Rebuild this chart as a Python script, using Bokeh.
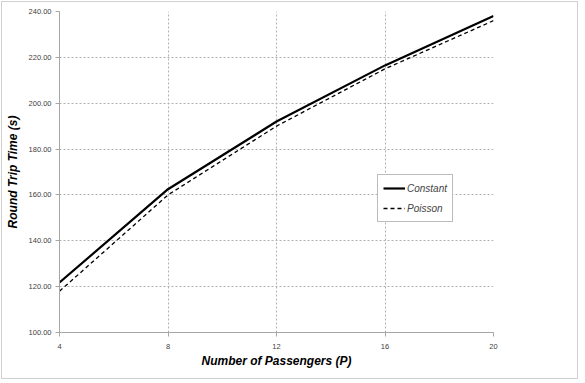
from bokeh.plotting import figure
from bokeh.models import FixedTicker, NumeralTickFormatter, Legend, LegendItem, Range1d
from bokeh.embed import file_html
from bokeh.resources import INLINE

passengers = [4, 8, 12, 16, 20]
constant = [121.8, 162.5, 192.0, 216.5, 238.0]
poisson = [118.0, 160.0, 190.0, 215.0, 236.0]
y_ticks = [100, 120, 140, 160, 180, 200, 220, 240]
x_ticks = [4, 8, 12, 16, 20]

p = figure(width=576, height=376, output_backend="svg", toolbar_location=None,
           x_range=Range1d(4, 20), y_range=Range1d(100, 240),
           min_border_left=57, min_border_right=84, min_border_top=9, min_border_bottom=46)
p.frame_width = 434
p.frame_height = 321
p.styles = {"border": "1px solid #d0d0d0", "margin-left": "1px", "margin-top": "1px"}
p.outline_line_color = None

r1 = p.line(passengers, constant, line_color="black", line_width=2.2)
r2 = p.line(passengers, poisson, line_color="black", line_width=1.3, line_dash="4 3")

for ax in (p.xaxis[0], p.yaxis[0]):
    ax.axis_line_color = "#a6a6a6"
    ax.major_tick_line_color = "#a6a6a6"
    ax.minor_tick_line_color = None
    ax.major_label_text_font = "Liberation Sans"
    ax.major_label_text_font_size = "7.5px"
    ax.major_label_text_color = "#404040"
    ax.axis_label_text_font = "Liberation Sans"
    ax.axis_label_text_font_style = "bold italic"
    ax.axis_label_text_font_size = "12px"
    ax.axis_label_text_color = "black"

p.xaxis.ticker = FixedTicker(ticks=x_ticks)
p.yaxis.ticker = FixedTicker(ticks=y_ticks)
p.yaxis.formatter = NumeralTickFormatter(format="0.00")
p.xaxis.axis_label = "Number of Passengers (P)"
p.yaxis.axis_label = "Round Trip Time (s)"
p.xaxis.major_tick_in = 0
p.xaxis.major_tick_out = 4
p.yaxis.major_tick_in = 0
p.yaxis.major_tick_out = 4
p.xaxis.major_label_standoff = 7
p.yaxis.major_label_standoff = 4
p.xaxis.axis_label_standoff = 2
p.yaxis.axis_label_standoff = 6

p.xgrid.grid_line_color = "#b0b0b0"
p.xgrid.grid_line_dash = "2 2"
p.ygrid.grid_line_color = "#b0b0b0"
p.ygrid.grid_line_dash = "2 2"

legend = Legend(items=[LegendItem(label="Constant", renderers=[r1]),
                       LegendItem(label="Poisson", renderers=[r2])],
                location=(318, 110))
legend.border_line_color = "#7a7a7a"
legend.border_line_width = 1
legend.label_text_font = "Liberation Sans"
legend.label_text_font_style = "italic"
legend.label_text_font_size = "10px"
legend.glyph_width = 22
legend.glyph_height = 16
legend.label_height = 16
legend.label_standoff = 2
legend.spacing = 4
legend.padding = 5
legend.margin = 0
legend.background_fill_alpha = 1
p.add_layout(legend)

open("out.html", "w").write(file_html(p, INLINE))
